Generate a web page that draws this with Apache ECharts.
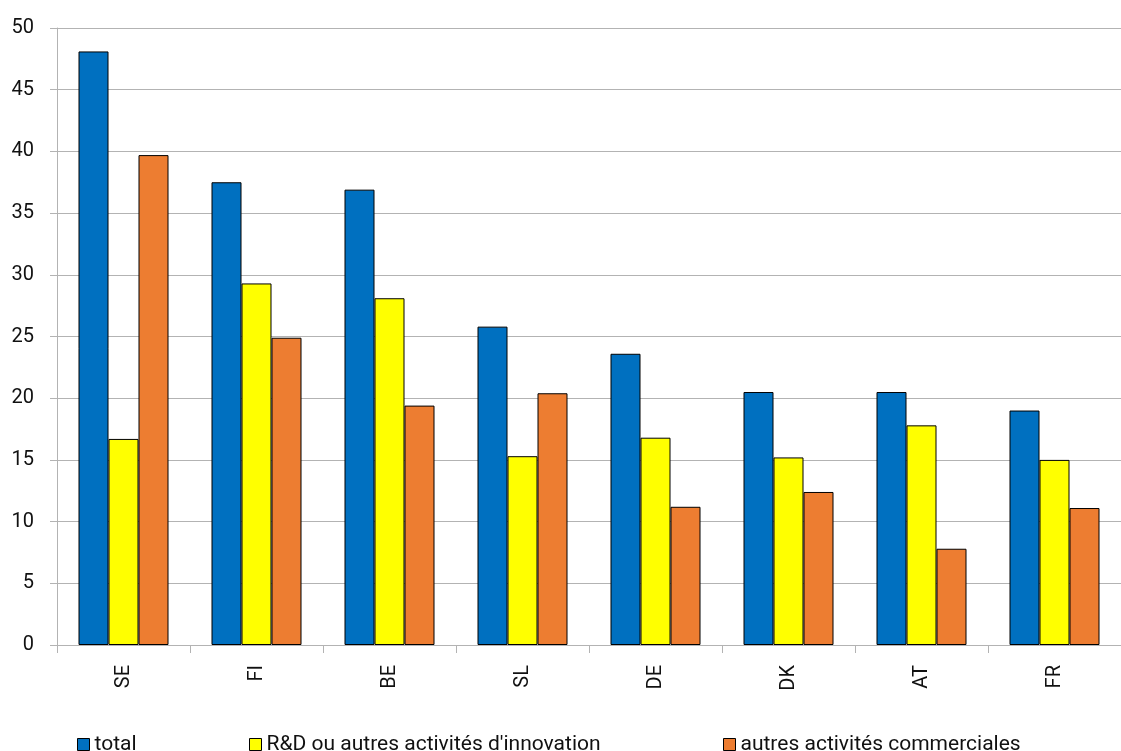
<!DOCTYPE html>
<html>
<head>
<meta charset="utf-8">
<script src="https://cdn.jsdelivr.net/npm/echarts@6/dist/echarts.min.js"></script>
<style>
  html, body { margin: 0; padding: 0; background: #fff; }
  #chart { width: 1121px; height: 751px; }
</style>
</head>
<body>
<div id="chart"></div>
<script>
// Countries on the category axis
const countries = ['SE', 'FI', 'BE', 'SL', 'DE', 'DK', 'AT', 'FR'];

// Series names
const seriesNames = ['total', "R&D ou autres activités d'innovation", 'autres activités commerciales'];

// Values per series, in country order
const totalValues = [48.1, 37.5, 36.9, 25.8, 23.6, 20.5, 20.5, 19.0];
const rdValues = [16.7, 29.3, 28.1, 15.3, 16.8, 15.2, 17.8, 15.0];
const otherValues = [39.7, 24.9, 19.4, 20.4, 11.2, 12.4, 7.8, 11.1];

// Value axis ticks
const yMin = 0;
const yMax = 50;
const yStep = 5;

const colors = ['#0070c0', '#ffff00', '#ed7d31'];
const fontFamily = 'Roboto, "Liberation Sans", sans-serif';

// Left edge of each legend entry (legend laid out in fixed columns)
const legendLefts = [77, 249, 723];

const chart = echarts.init(document.getElementById('chart'), null, { renderer: 'canvas' });

function barSeries(name, values, color) {
  return {
    name: name,
    type: 'bar',
    data: values,
    barWidth: 30,
    barGap: '0%',
    itemStyle: { color: color, borderColor: '#000', borderWidth: 1 },
    emphasis: { disabled: true }
  };
}

const legends = seriesNames.map((n, i) => ({
  top: 734,
  left: legendLefts[i],
  padding: 0,
  itemWidth: 12,
  itemHeight: 12,
  icon: 'rect',
  textStyle: { fontSize: 21, lineHeight: 20, color: '#111', fontFamily: fontFamily },
  data: [{ name: n, itemStyle: { color: colors[i], borderColor: '#000', borderWidth: 1 } }]
}));

chart.setOption({
  animation: false,
  backgroundColor: '#ffffff',
  textStyle: { fontFamily: fontFamily },
  grid: { left: 57, right: 0, top: 28, bottom: 106, containLabel: false },
  legend: legends,
  xAxis: {
    type: 'category',
    data: countries,
    boundaryGap: true,
    axisLine: { lineStyle: { color: '#b3b3b3', width: 1 } },
    axisTick: { show: true, length: 8, lineStyle: { color: '#b3b3b3' } },
    axisLabel: { rotate: 90, fontSize: 20, color: '#111', margin: 20, fontFamily: fontFamily }
  },
  yAxis: {
    type: 'value',
    min: yMin,
    max: yMax,
    interval: yStep,
    axisLine: { show: true, lineStyle: { color: '#b3b3b3', width: 1 } },
    axisTick: { show: true, length: 7, lineStyle: { color: '#b3b3b3' } },
    axisLabel: { fontSize: 20, color: '#111', margin: 23, fontFamily: fontFamily },
    splitLine: { show: true, lineStyle: { color: '#b3b3b3', width: 1 } }
  },
  series: [
    barSeries(seriesNames[0], totalValues, colors[0]),
    barSeries(seriesNames[1], rdValues, colors[1]),
    barSeries(seriesNames[2], otherValues, colors[2])
  ]
});
</script>
</body>
</html>
